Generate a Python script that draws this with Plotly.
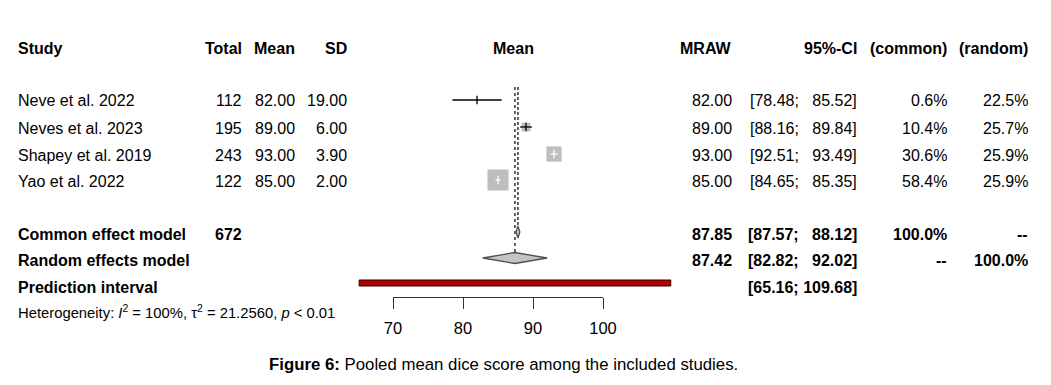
import plotly.graph_objects as go

# ---------------- data ----------------
studies = ["Neve et al. 2022", "Neves et al. 2023", "Shapey et al. 2019", "Yao et al. 2022"]
total = [112, 195, 243, 122]
mean = [82.00, 89.00, 93.00, 85.00]
sd = [19.00, 6.00, 3.90, 2.00]
ci_lo = [78.48, 88.16, 92.51, 84.65]
ci_hi = [85.52, 89.84, 93.49, 85.35]
w_common = [0.6, 10.4, 30.6, 58.4]
w_random = [22.5, 25.7, 25.9, 25.9]

common_n = 672
common_est, common_lo, common_hi = 87.85, 87.57, 88.12
random_est, random_lo, random_hi = 87.42, 82.82, 92.02
pred_lo, pred_hi = 65.16, 109.68
tick_vals = [70, 80, 90, 100]

# ---------------- layout geometry (page pixels) ----------------
W, H = 1051, 385
OFF = 8                          # page body margin offset of the figure
AX_L, AX_R = 393, 603            # page pixel position of 70 and 100
AX_Y = 297                       # page pixel row of the axis line
px_per_unit = (AX_R - AX_L) / (tick_vals[-1] - tick_vals[0])
x2_range = [tick_vals[0] + (OFF - AX_L) / px_per_unit,
            tick_vals[0] + (W + OFF - AX_L) / px_per_unit]
y_range = [H + OFF, OFF]

row_y = [100, 127, 154, 180]
text_dy = 1
hdr_y = 48
common_y, random_y, pred_y, het_y = 232, 258, 283, 312
FONT = "Liberation Sans, Arial, sans-serif"
FS = 16

fig = go.Figure()

# reference lines: random (dotted) and common (dashed)
fig.add_trace(go.Scatter(x=[random_est, random_est], y=[87, 252], mode="lines",
                         line=dict(color="black", width=1.2, dash="dot"),
                         xaxis="x2", yaxis="y", hoverinfo="skip", showlegend=False))
fig.add_trace(go.Scatter(x=[common_est, common_est], y=[87, 226], mode="lines",
                         line=dict(color="black", width=1.2, dash="3px,2px"),
                         xaxis="x2", yaxis="y", hoverinfo="skip", showlegend=False))

# study squares and CIs
k = 2.75
for i in range(len(studies)):
    side = k * (w_common[i] ** 0.5)
    fig.add_trace(go.Scatter(x=[mean[i]], y=[row_y[i]], mode="markers",
                             marker=dict(symbol="square", size=max(side, 2), color="#BEBEBE",
                                         line=dict(width=0)),
                             xaxis="x2", yaxis="y", hoverinfo="skip", showlegend=False))
    inside = (ci_hi[i] - ci_lo[i]) * px_per_unit < side
    col = "white" if inside else "black"
    fig.add_trace(go.Scatter(x=[ci_lo[i], ci_hi[i]], y=[row_y[i], row_y[i]], mode="lines",
                             line=dict(color=col, width=1.3),
                             xaxis="x2", yaxis="y", hoverinfo="skip", showlegend=False))
    fig.add_trace(go.Scatter(x=[mean[i]], y=[row_y[i]], mode="markers",
                             marker=dict(symbol="line-ns", size=6, line=dict(color=col, width=1.3)),
                             xaxis="x2", yaxis="y", hoverinfo="skip", showlegend=False))

# diamonds
def diamond(est, lo, hi, yc, h):
    fig.add_trace(go.Scatter(x=[lo, est, hi, est, lo], y=[yc, yc - h, yc, yc + h, yc],
                             mode="lines", fill="toself", fillcolor="#C4C4C4",
                             line=dict(color="#505050", width=1.3),
                             xaxis="x2", yaxis="y", hoverinfo="skip", showlegend=False))

diamond(common_est, common_lo, common_hi, common_y, 6)
diamond(random_est, random_lo, random_hi, random_y, 5.5)

# prediction interval bar
fig.add_shape(type="rect", xref="x2", yref="y", x0=pred_lo, x1=pred_hi, y0=pred_y - 3, y1=pred_y + 3,
              fillcolor="#B00000", line=dict(color="#3a0000", width=1))

# invisible trace to create the visible axis subplot
fig.add_trace(go.Scatter(x=tick_vals, y=[AX_Y] * len(tick_vals), mode="markers",
                         marker=dict(opacity=0), xaxis="x", yaxis="y",
                         hoverinfo="skip", showlegend=False))

# ---------------- text ----------------
ann = []
def txt(xp, yp, s, anchor="left", bold=False, size=FS):
    if bold:
        s = "<b>" + s + "</b>"
    ann.append(dict(x=(xp - OFF) / W, y=1 - (yp - OFF) / H, xref="paper", yref="paper", text=s,
                    showarrow=False, xanchor=anchor, yanchor="middle",
                    font=dict(family=FONT, size=size, color="black")))

# headers
txt(16, hdr_y, "Study", "left", True)
txt(244, hdr_y, "Total", "right", True)
txt(297, hdr_y, "Mean", "right", True)
txt(349, hdr_y, "SD", "right", True)
txt(513, hdr_y, "Mean", "center", True)
txt(734, hdr_y, "MRAW", "right", True)
txt(859, hdr_y, "95%-CI", "right", True)
txt(949, hdr_y, "(common)", "right", True)
txt(1030, hdr_y, "(random)", "right", True)

def fmt_ci(lo, hi):
    a, b = f"{lo:.2f}", f"{hi:.2f}"
    pad = "\u00a0" * (1 + 2 * (6 - len(b)))
    return f"[{a};{pad}{b}]"

for i in range(len(studies)):
    y = row_y[i] + text_dy
    txt(16, y, studies[i], "left")
    txt(244, y, str(total[i]), "right")
    txt(297, y, f"{mean[i]:.2f}", "right")
    txt(349, y, f"{sd[i]:.2f}", "right")
    txt(734, y, f"{mean[i]:.2f}", "right")
    txt(859, y, fmt_ci(ci_lo[i], ci_hi[i]), "right")
    txt(949, y, f"{w_common[i]:.1f}%", "right")
    txt(1030, y, f"{w_random[i]:.1f}%", "right")

y = 234
txt(16, y, "Common effect model", "left", True)
txt(244, y, str(common_n), "right", True)
txt(734, y, f"{common_est:.2f}", "right", True)
txt(859, y, fmt_ci(common_lo, common_hi), "right", True)
txt(949, y, "100.0%", "right", True)
txt(1030, y, "--", "right", True)

y = 260
txt(16, y, "Random effects model", "left", True)
txt(734, y, f"{random_est:.2f}", "right", True)
txt(859, y, fmt_ci(random_lo, random_hi), "right", True)
txt(949, y, "--", "right", True)
txt(1030, y, "100.0%", "right", True)

y = 287
txt(16, y, "Prediction interval", "left", True)
txt(859, y, fmt_ci(pred_lo, pred_hi), "right", True)

txt(16, het_y, "Heterogeneity: <i>I</i><sup>2</sup> = 100%, τ<sup>2</sup> = 21.2560, <i>p</i> &lt; 0.01",
    "left", False, 14.8)

txt(503, 364, "<b>Figure 6:</b> Pooled mean dice score among the included studies.", "center", False, 16.8)

fig.update_layout(
    width=W, height=H, autosize=False, margin=dict(l=0, r=0, t=0, b=0, pad=0, autoexpand=False),
    paper_bgcolor="white", plot_bgcolor="rgba(0,0,0,0)",
    annotations=ann,
    xaxis=dict(domain=[(AX_L - OFF) / W, (AX_R - OFF) / W], range=[tick_vals[0], tick_vals[-1]],
               anchor="free", position=1 - (AX_Y - OFF) / H, tickvals=tick_vals,
               ticks="outside", ticklen=11, tickwidth=1, tickcolor="#333",
               showline=True, linecolor="#333", linewidth=1, automargin=False,
               ticklabelstandoff=5,
               showgrid=False, zeroline=False, fixedrange=True,
               tickfont=dict(family=FONT, size=16.5, color="black")),
    xaxis2=dict(domain=[0, 1], range=x2_range, anchor="y", visible=False, automargin=False,
                showgrid=False, zeroline=False, fixedrange=True),
    yaxis=dict(domain=[0, 1], range=y_range, visible=False, showgrid=False, automargin=False,
               zeroline=False, fixedrange=True),
    showlegend=False,
)

fig.write_html("out.html")
